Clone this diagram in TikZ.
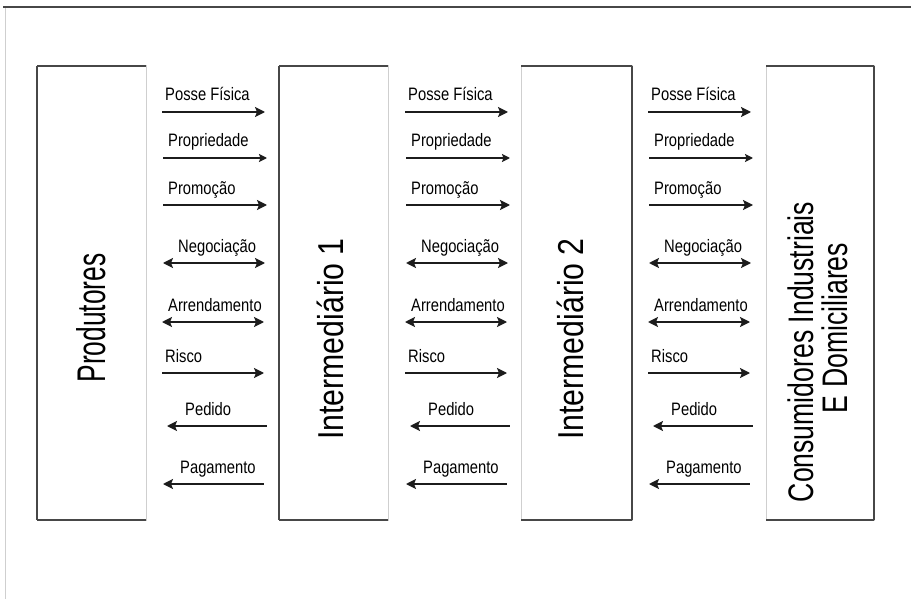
\documentclass[tikz,border=0pt]{standalone}
\usepackage{fontspec}
\setmainfont{Liberation Sans}
\newfontfamily\flowfont[FakeStretch=0.82]{Liberation Sans}
\newfontfamily\prodfont[FakeStretch=0.66]{Liberation Sans}
\newfontfamily\interfont[FakeStretch=0.84]{Liberation Sans}
\newfontfamily\consfont[FakeStretch=0.75]{Liberation Sans}
\usetikzlibrary{arrows.meta}

\definecolor{edgedark}{HTML}{474747}
\definecolor{edgelight}{HTML}{CFCFCF}
\definecolor{ink}{HTML}{1C1C1C}

\begin{document}
\begin{tikzpicture}[x=1pt,y=-1pt,
  stage/.style={draw=edgelight, line width=1pt, minimum height=454pt,
    anchor=north west, inner sep=0pt, outer sep=0pt},
  edgeline/.style={draw=edgedark, line width=1.6pt},
  flow/.style={draw=ink, line width=1.5pt},
  fwd/.style={flow, -{Stealth[length=10pt,width=10pt,inset=2pt]}},
  fwdbold/.style={flow, line width=2.6pt, -{Stealth[length=8pt,width=8pt,inset=1.5pt]}},
  both/.style={flow, {Stealth[length=10pt,width=10pt,inset=2pt]}-{Stealth[length=10pt,width=10pt,inset=2pt]}},
  back/.style={flow, {Stealth[length=10pt,width=10pt,inset=2pt]}-},
  flowlabel/.style={font=\flowfont\fontsize{18}{20}\selectfont, anchor=base west,
    inner sep=0pt, text=black},
  stagename/.style={rotate=90, anchor=base, inner sep=0pt, text=black}
]
\useasboundingbox (0,0) rectangle (911,599);
\fill[white] (0,0) rectangle (911,599);

% page frame
\draw[edgedark, line width=2pt] (3,7.5) -- (911,7.5);
\draw[edgelight, line width=1pt] (5.5,8.5) -- (5.5,599);

% the four stages of the channel
\node[stage, minimum width=109pt] (prod) at (37,66) {};
\node[stage, minimum width=109pt] (int1) at (279,66) {};
\node[stage, minimum width=111pt] (int2) at (521,66) {};
\node[stage, minimum width=108pt] (cons) at (766,66) {};

\foreach \b in {prod,int1,int2,cons} {
  \draw[edgeline] (\b.north west) -- (\b.north east);
  \draw[edgeline] (\b.south west) -- (\b.south east);
}
\draw[edgeline] (prod.north west) -- (prod.south west);
\draw[edgeline] (int1.north west) -- (int1.south west);
\draw[edgeline] (int2.north east) -- (int2.south east);
\draw[edgeline] (cons.north east) -- (cons.south east);

% stage names
\node[stagename, font=\prodfont\fontsize{40}{48}\selectfont] (prodname) at (105,318) {Produtores};
\node[stagename, font=\interfont\fontsize{36}{44}\selectfont] (int1name) at (343,339) {Intermediário 1};
\node[stagename, font=\interfont\fontsize{36}{44}\selectfont] (int2name) at (583,339) {Intermediário 2};
\node[stagename, font=\consfont\fontsize{35.5}{40}\selectfont] (consname) at (813,352) {Consumidores Industriais};
\node[stagename, font=\consfont\fontsize{35.5}{40}\selectfont] (consname2) at (847,328) {E Domiciliares};

% flows between neighbouring stages
\foreach \dx in {0,243,486} {
  \coordinate (pf-s-\dx) at ({162+\dx},112);  \coordinate (pf-e-\dx) at ({265+\dx},112);
  \coordinate (pr-s-\dx) at ({163+\dx},158);  \coordinate (pr-e-\dx) at ({267+\dx},158);
  \coordinate (pm-s-\dx) at ({163+\dx},205);  \coordinate (pm-e-\dx) at ({267+\dx},205);
  \coordinate (ng-s-\dx) at ({163+\dx},263);  \coordinate (ng-e-\dx) at ({265+\dx},263);
  \coordinate (ar-s-\dx) at ({162+\dx},322);  \coordinate (ar-e-\dx) at ({264+\dx},322);
  \coordinate (rs-s-\dx) at ({162+\dx},373);  \coordinate (rs-e-\dx) at ({264+\dx},373);
  \coordinate (pd-s-\dx) at ({167+\dx},426);  \coordinate (pd-e-\dx) at ({267+\dx},426);
  \coordinate (pg-s-\dx) at ({163+\dx},484);  \coordinate (pg-e-\dx) at ({264+\dx},484);

  \draw[fwd]     (pf-s-\dx) -- (pf-e-\dx);
  \draw[fwdbold] (pr-s-\dx) -- (pr-e-\dx);
  \draw[fwd]     (pm-s-\dx) -- (pm-e-\dx);
  \draw[both]    (ng-s-\dx) -- (ng-e-\dx);
  \draw[both]    (ar-s-\dx) -- (ar-e-\dx);
  \draw[fwd]     (rs-s-\dx) -- (rs-e-\dx);
  \draw[back]    (pd-s-\dx) -- (pd-e-\dx);
  \draw[back]    (pg-s-\dx) -- (pg-e-\dx);

  \node[flowlabel] (pf-l-\dx) at ({165+\dx},101) {Posse Física};
  \node[flowlabel] (pr-l-\dx) at ({168+\dx},147) {Propriedade};
  \node[flowlabel] (pm-l-\dx) at ({168+\dx},194) {Promoção};
  \node[flowlabel] (ng-l-\dx) at ({178+\dx},252) {Negociação};
  \node[flowlabel] (ar-l-\dx) at ({168+\dx},311) {Arrendamento};
  \node[flowlabel] (rs-l-\dx) at ({165+\dx},362) {Risco};
  \node[flowlabel] (pd-l-\dx) at ({185+\dx},415) {Pedido};
  \node[flowlabel] (pg-l-\dx) at ({180+\dx},473) {Pagamento};
}
\end{tikzpicture}
\end{document}
